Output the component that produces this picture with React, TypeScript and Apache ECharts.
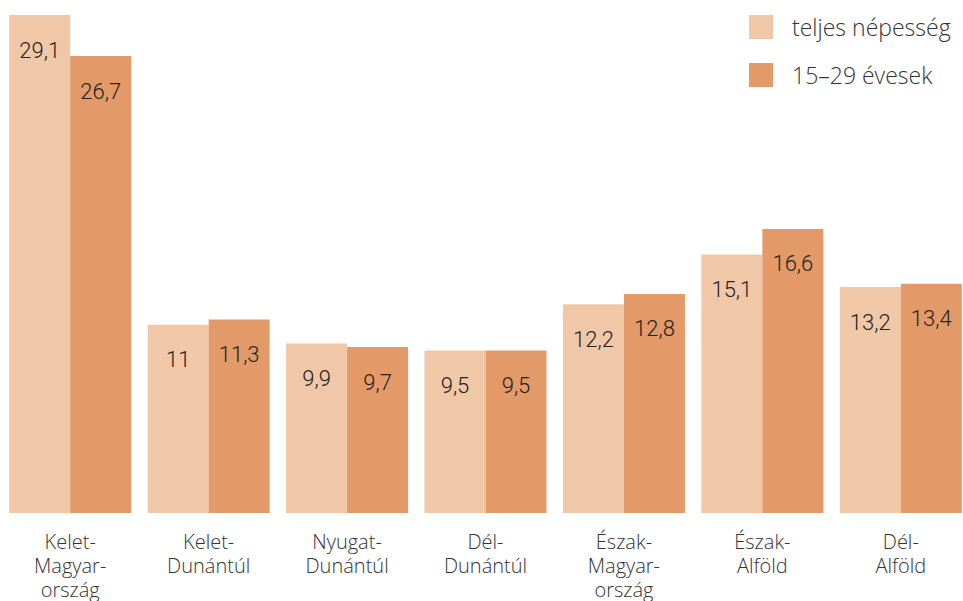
import React, { useEffect, useRef } from "react";
import * as echarts from "echarts";

const categories = [
  "Kelet-\nMagyar-\nország",
  "Kelet-\nDunántúl",
  "Nyugat-\nDunántúl",
  "Dél-\nDunántúl",
  "Észak-\nMagyar-\nország",
  "Észak-\nAlföld",
  "Dél-\nAlföld",
];
const seriesNames = ["teljes népesség", "15–29 évesek"];
const totalPop = [29.1, 11, 9.9, 9.5, 12.2, 15.1, 13.2];
const youth = [26.7, 11.3, 9.7, 9.5, 12.8, 16.6, 13.4];

const FONT = "'Open Sans'";

export default function App() {
  const ref = useRef<HTMLDivElement>(null);
  useEffect(() => {
    document.body.style.margin = "0";
    const chart = echarts.init(ref.current!, null, { renderer: "svg" });
    const label = {
      show: true,
      position: "insideTop",
      distance: 24,
      fontFamily: "Roboto",
      fontWeight: 300,
      fontSize: 22,
      color: "#222",
      formatter: (p: any) => String(p.value).replace(".", ","),
    };
    chart.setOption({
      animation: false,
      backgroundColor: "#fff",
      legend: {
        orient: "vertical",
        left: 749,
        top: 15,
        itemWidth: 24,
        itemHeight: 24,
        itemGap: 24,
        icon: "rect",
        padding: 0,
        textStyle: { fontFamily: FONT, fontWeight: 300, fontSize: 23, color: "#333", padding: [0, 0, 0, 14] },
        data: seriesNames,
      },
      grid: { left: 1, width: 969, top: 15, height: 498, outerBoundsMode: "none", containLabel: false },
      xAxis: {
        type: "category",
        data: categories,
        axisLine: { show: false },
        axisTick: { show: false },
        axisLabel: {
          interval: 0,
          margin: 16,
          fontFamily: FONT,
          fontWeight: 300,
          fontSize: 20,
          lineHeight: 24,
          color: "#333",
        },
      },
      yAxis: {
        type: "value",
        min: 0,
        max: 29.1,
        show: false,
        splitLine: { show: false },
      },
      series: [
        {
          name: seriesNames[0],
          type: "bar",
          data: totalPop,
          barWidth: 61,
          barGap: "0%",
          itemStyle: { color: "#F0C8A8" },
          label,
        },
        {
          name: seriesNames[1],
          type: "bar",
          data: youth,
          barWidth: 61,
          barGap: "0%",
          itemStyle: { color: "#E39A68" },
          label,
        },
      ],
    });
    return () => chart.dispose();
  }, []);
  return <div ref={ref} style={{ width: 963, height: 601 }} />;
}
